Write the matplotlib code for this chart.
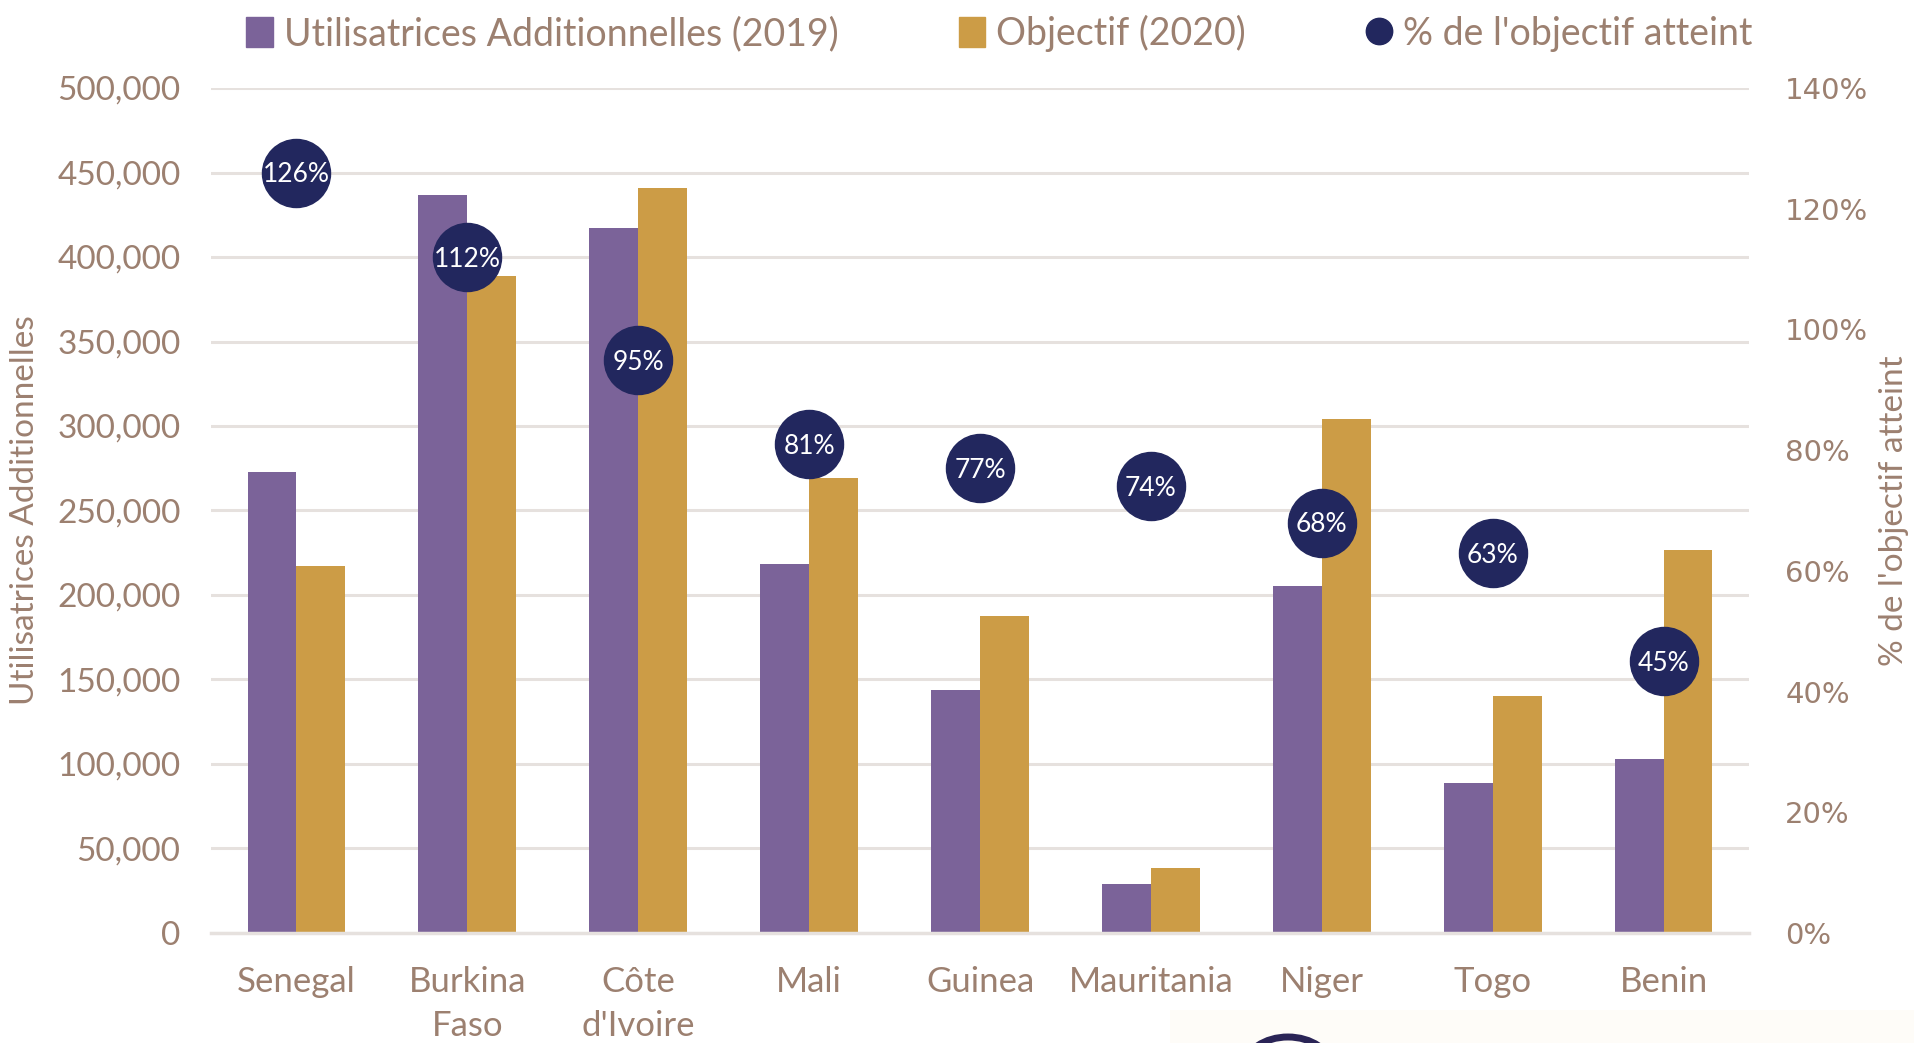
import matplotlib
matplotlib.use("Agg")
import matplotlib.pyplot as plt
import numpy as np
from matplotlib.patches import Rectangle, Arc
from matplotlib.lines import Line2D
from matplotlib.ticker import FuncFormatter

countries = ["Senegal", "Burkina\nFaso", "Côte\nd'Ivoire", "Mali", "Guinea",
             "Mauritania", "Niger", "Togo", "Benin"]
users_2019 = [273000, 436500, 417000, 218500, 143500, 29000, 205500, 89000, 103000]
target_2020 = [217000, 389000, 441000, 269000, 187500, 38500, 304000, 140500, 226500]
pct_reached = [126, 112, 95, 81, 77, 74, 68, 63, 45]

PURPLE = "#7B6399"
GOLD = "#CC9C46"
NAVY = "#22275E"
TXT = "#9C8070"
GRID = "#E6E1DE"
FONT = ["Lato", "DejaVu Sans"]

fig = plt.figure(figsize=(19.15, 10.43), dpi=100)
ax = fig.add_axes([0.1102, 0.1055, 0.8031, 0.8101])
ax2 = ax.twinx()

x = np.arange(len(countries))
w = 0.286
ax.bar(x - w / 2, users_2019, w, color=PURPLE, zorder=2,
       label="Utilisatrices Additionnelles (2019)")
ax.bar(x + w / 2, target_2020, w, color=GOLD, zorder=2, label="Objectif (2020)")

ax.set_xlim(-0.5, len(countries) - 0.5)
ax.set_ylim(0, 500000)
ax.set_yticks(np.arange(0, 500001, 50000))
ax.yaxis.set_major_formatter(FuncFormatter(lambda v, p: f"{int(v):,}"))
ax.grid(axis="y", color=GRID, linewidth=2.2, zorder=0)
ax.set_axisbelow(True)
for s in ["top", "right", "left"]:
    ax.spines[s].set_visible(False)
ax.spines["bottom"].set_color(GRID)
ax.spines["bottom"].set_linewidth(2.5)
ax.tick_params(axis="y", length=0, pad=22, labelcolor=TXT, labelsize=24)
ax.tick_params(axis="x", length=0, pad=24, labelcolor=TXT, labelsize=25)
ax.set_xticks(x)
ax.set_xticklabels(countries, fontfamily=FONT, linespacing=1.45)
for lab in ax.get_yticklabels():
    lab.set_fontfamily(FONT)
ax.set_ylabel("Utilisatrices Additionnelles", fontsize=24, color=TXT,
              fontfamily=FONT, labelpad=12)

ax2.set_ylim(0, 140)
ax2.set_yticks(np.arange(0, 141, 20))
ax2.yaxis.set_major_formatter(FuncFormatter(lambda v, p: f"{int(v)}%"))
for s in ["top", "right", "left", "bottom"]:
    ax2.spines[s].set_visible(False)
ax2.tick_params(axis="y", length=0, pad=26, labelcolor=TXT, labelsize=21)
for lab in ax2.get_yticklabels():
    lab.set_fontfamily("DejaVu Sans")
ax2.plot(x, pct_reached, linestyle="none", marker="o", markersize=49,
         color=NAVY, zorder=3)
for xi, p in zip(x, pct_reached):
    ax2.text(xi, p - 0.4, f"{p}%", ha="center", va="center", color="white",
             fontsize=19, fontfamily=FONT, zorder=4)
ax2.set_ylabel("% de l'objectif atteint", fontsize=24, color=TXT,
               fontfamily=FONT, labelpad=8)

handles = [Rectangle((0, 0), 1, 1, color=PURPLE), Rectangle((0, 0), 1, 1, color=GOLD),
           Line2D([], [], linestyle="none", marker="o", markersize=19, color=NAVY)]
labels = ["Utilisatrices Additionnelles (2019)", "Objectif (2020)",
          "% de l'objectif atteint"]
leg = fig.legend(handles, labels, loc="upper center", bbox_to_anchor=(0.522, 1.018),
                 ncol=3, frameon=False, handlelength=0.7,
                 handleheight=0.85, handletextpad=0.3, columnspacing=3.2,
                 prop={"family": FONT, "size": 27})
for t in leg.get_texts():
    t.set_color(TXT)

# clipped logo fragment at the bottom
fig.patches.append(Rectangle((1170 / 1915, 0), 745 / 1915, 33 / 1043,
                             transform=fig.transFigure, facecolor="#FEFCF8",
                             edgecolor="none", zorder=0))
fig.patches.append(Arc((1288 / 1915, -24 / 1043), 86 / 1915, 60 / 1043,
                       transform=fig.transFigure, theta1=0, theta2=180,
                       color="#2A2456", linewidth=5, zorder=1))

fig.savefig("out.png", dpi=100, facecolor="white")
